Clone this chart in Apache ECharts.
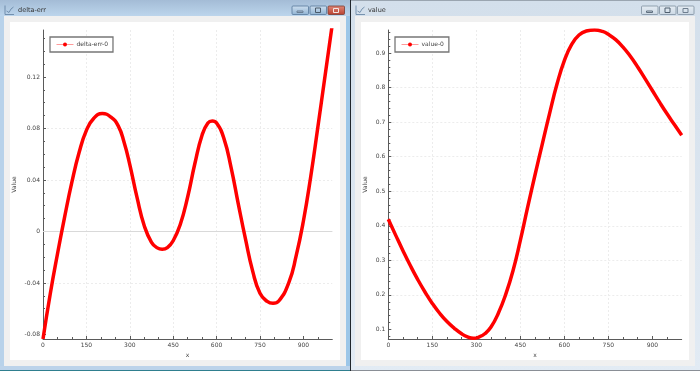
<!DOCTYPE html>
<html>
<head>
<meta charset="utf-8">
<style>html,body{margin:0;padding:0;background:#fff}#c{width:700px;height:371px}</style>
<script src="https://cdn.jsdelivr.net/npm/echarts@6/dist/echarts.min.js"></script>
</head>
<body>
<div id="c"></div>
<script>
const deltaErrX = [0,25,50,75,100,125,150,175,205,235,260,280,300,325,350,375,395,412,430,450,475,500,525,550,570,585,600,625,650,675,700,725,750,775,795,815,850,875,900,925,950,975,1000];
const deltaErrY = [-0.0835,-0.0485,-0.0175,0.0115,0.0385,0.0615,0.0785,0.0878,0.0916,0.0888,0.082,0.0695,0.052,0.0265,0.0045,-0.0084,-0.0127,-0.0138,-0.0125,-0.0072,0.0058,0.0268,0.0528,0.075,0.0842,0.0858,0.0842,0.0725,0.0498,0.0215,-0.006,-0.031,-0.048,-0.0543,-0.0558,-0.054,-0.0395,-0.019,0.008,0.042,0.081,0.121,0.161];
const valueX = [0,25,50,75,100,125,150,175,200,225,250,270,290,310,330,350,375,400,425,450,475,500,525,550,575,600,625,650,675,703,730,750,775,800,825,850,875,900,925,950,975,1000];
const valueY = [0.419,0.373,0.328,0.285,0.245,0.2085,0.1755,0.147,0.123,0.1035,0.0875,0.0785,0.0745,0.0785,0.0885,0.107,0.147,0.201,0.27,0.358,0.454,0.547,0.637,0.726,0.81,0.878,0.925,0.952,0.9635,0.9665,0.9625,0.954,0.9385,0.917,0.8905,0.8595,0.826,0.7915,0.757,0.724,0.693,0.662];
const xTicks = [0,150,300,450,600,750,900];
const xMinor = [50,100,200,250,350,400,500,550,650,700,800,850,950];
const deltaTicks = [-0.08,-0.04,0,0.04,0.08,0.12];
const deltaMinor = [-0.07,-0.06,-0.05,-0.03,-0.02,-0.01,0.01,0.02,0.03,0.05,0.06,0.07,0.09,0.1,0.11,0.13,0.14,0.15];
const valueTicks = [0.1,0.2,0.3,0.4,0.5,0.6,0.7,0.8,0.9];
const valueMinor = [0.08,0.12,0.14,0.16,0.18,0.22,0.24,0.26,0.28,0.32,0.34,0.36,0.38,0.42,0.44,0.46,0.48,0.52,0.54,0.56,0.58,0.62,0.64,0.66,0.68,0.72,0.74,0.76,0.78,0.82,0.84,0.86,0.88,0.92,0.94,0.96];
const zeroLineX = [0,1000];
const zeroLineY = [0,0];
const windowTitles = ['delta-err','value'];
const seriesNames = ['delta-err-0','value-0'];

const font = 'DejaVu Sans';
const axisColor = '#5a5a5a';
const textColor = '#444';

function zip(a,b){return a.map((v,i)=>[v,b[i]]);}
function mainX(grid,min,max){return {
  type:'value',gridIndex:grid,min:min,max:max,position:'bottom',
  name:'x',nameLocation:'middle',nameGap:13,
  nameTextStyle:{fontFamily:font,fontSize:6,color:textColor},
  axisLine:{onZero:false,lineStyle:{color:axisColor,width:1}},
  axisTick:{show:true,inside:true,length:3,customValues:xTicks,lineStyle:{color:axisColor}},
  axisLabel:{show:true,customValues:xTicks,margin:3,fontFamily:font,fontSize:6,color:textColor,hideOverlap:false,showMinLabel:true,showMaxLabel:true},
  splitLine:{show:true,lineStyle:{color:'#ececec',type:[2,2],width:1},showMinLine:false,showMaxLine:false}
};}
function minorX(grid,min,max){return {
  type:'value',gridIndex:grid,min:min,max:max,position:'bottom',
  axisLine:{show:false,onZero:false},
  axisTick:{show:true,inside:true,length:2,customValues:xMinor,lineStyle:{color:axisColor}},
  axisLabel:{show:false},splitLine:{show:false}
};}
function mainY(grid,min,max,ticks,gap){return {
  type:'value',gridIndex:grid,min:min,max:max,position:'left',
  name:'Value',nameLocation:'middle',nameGap:gap,nameRotate:90,
  nameTextStyle:{fontFamily:font,fontSize:6,color:textColor},
  axisLine:{show:true,onZero:false,lineStyle:{color:axisColor,width:1}},
  axisTick:{show:true,inside:true,length:3,customValues:ticks,lineStyle:{color:axisColor}},
  axisLabel:{show:true,customValues:ticks,margin:3,fontFamily:font,fontSize:6,color:textColor,hideOverlap:false},
  splitLine:{show:true,lineStyle:{color:'#ececec',type:[2,2],width:1},showMinLine:false,showMaxLine:false}
};}
function minorY(grid,min,max,ticks){return {
  type:'value',gridIndex:grid,min:min,max:max,position:'left',
  axisLine:{show:false,onZero:false},
  axisTick:{show:true,inside:true,length:2,customValues:ticks,lineStyle:{color:axisColor}},
  axisLabel:{show:false},splitLine:{show:false}
};}
function curve(name,x,y,xi,yi){return {
  type:'line',name:name,xAxisIndex:xi,yAxisIndex:yi,data:zip(x,y),smooth:0.5,
  symbol:'circle',showSymbol:false,symbolSize:4,clip:true,silent:true,z:5,
  lineStyle:{color:'#ff0000',width:3.5,join:'round',cap:'butt'},itemStyle:{color:'#ff0000'},emphasis:{disabled:true},animation:false
};}
function legend(name,left){return {
  data:[name],left:left,top:37,orient:'horizontal',
  padding:[4.5,5,4.5,6],itemWidth:17,itemHeight:5,itemGap:0,
  backgroundColor:'#fff',borderColor:'#777',borderWidth:1.3,borderRadius:0,
  selectedMode:false,
  textStyle:{fontFamily:font,fontSize:6,color:textColor,padding:[0,0,0,-2]},
  itemStyle:{color:'#ff0000'},lineStyle:{color:'#ff9a9a',width:1}
};}
function rect(x,y,w,h,fill,stroke){return {type:'rect',silent:true,z:-5,shape:{x:x,y:y,width:w,height:h},style:{fill:fill,stroke:stroke||null,lineWidth:stroke?0.8:0}};}
function vgrad(a,b){return new echarts.graphic.LinearGradient(0,0,0,1,[{offset:0,color:a},{offset:1,color:b}]);}
function button(x,w,fill,stroke,glyph){return [
  {type:'rect',silent:true,z:-4,shape:{x:x+0.5,y:6,width:w,height:8.5,r:1},style:{fill:fill,stroke:stroke,lineWidth:0.8}},
  glyph
];}
function glyphRect(x,y,w,h,c){return {type:'rect',silent:true,z:-3,shape:{x:x,y:y,width:w,height:h},style:{fill:'none',stroke:c,lineWidth:1}};}
function icon(x,c){return [
  {type:'polyline',silent:true,z:-3,shape:{points:[[x,5.5],[x,14.5],[x+9,14.5]]},style:{stroke:c,fill:'none',lineWidth:0.8}},
  {type:'polyline',silent:true,z:-3,shape:{points:[[x+1.5,11],[x+4,12.5],[x+6,9],[x+8.5,7]]},style:{stroke:c,fill:'none',lineWidth:0.8}}
];}
function title(text,x){return {type:'text',silent:true,z:-3,x:x,y:7,style:{text:text,fontFamily:font,fontSize:6.5,fill:'#333'}};}

const graphics = [
  rect(0,0,350,371,vgrad('#9db8d4','#b9d2ea')),
  rect(0,0,350,16,vgrad('#a4bcd6','#bcd5ec')),
  rect(346,16,4,354,'#9cc6e8'),
  rect(0,16,4,354,'#b8d2ea'),
  rect(0,366,350,5,'#bcd3ea'),
  rect(0,370,350,1,'#2f7f8f'),
  rect(4,16,342,350,'#f0f0f0'),
  rect(10,22,330,338,'#ffffff'),
  rect(351,0,349,371,vgrad('#d3dfeb','#e2ebf4')),
  rect(351,0,349,1,'#9aa5b0'),
  rect(351,370,349,1,'#8a8f96'),
  rect(355,16,340,350,'#f0f0f0'),
  rect(361,22,328,338,'#ffffff'),
  rect(350,0,1,371,'#20262c'),
  title(windowTitles[0],18),
  title(windowTitles[1],368)
].concat(
  icon(5,'#5f7f9f'),icon(356,'#5f7f9f'),
  button(291.5,16.5,vgrad('#cfe0f0','#8fb2d2'),'#56779a',glyphRect(297,11,6,1.5,'#6a7f95')),
  button(309.5,16.5,vgrad('#cfe0f0','#8fb2d2'),'#56779a',glyphRect(315.5,8,5,4.5,'#4a5a6a')),
  button(327.5,16.5,vgrad('#e0897a','#b8402f'),'#7a3a30',glyphRect(333.5,8.5,5,4,'#f4e6e2')),
  button(641,16.5,vgrad('#e6edf4','#cbd8e4'),'#7f8f9f',glyphRect(646.5,11,6,1.5,'#5f6f7f')),
  button(659,16.5,vgrad('#e6edf4','#cbd8e4'),'#7f8f9f',glyphRect(665,8,5,4.5,'#4f5f6f')),
  button(677,16.5,vgrad('#e6edf4','#cbd8e4'),'#7f8f9f',glyphRect(683,8.5,5,4,'#6f7f8f'))
);

const option = {
  animation:false,
  backgroundColor:'#fff',
  graphic:{elements:graphics},
  legend:[legend(seriesNames[0],50),legend(seriesNames[1],395)],
  grid:[
    {left:43,top:30,width:289.3,height:309,containLabel:false},
    {left:388.3,top:30,width:293.4,height:309,containLabel:false}
  ],
  xAxis:[mainX(0,0,1000),minorX(0,0,1000),mainX(1,0,1000),minorX(1,0,1000)],
  yAxis:[
    mainY(0,-0.0835,0.1565,deltaTicks,26),minorY(0,-0.0835,0.1565,deltaMinor),
    mainY(1,0.0725,0.9665,valueTicks,20),minorY(1,0.0725,0.9665,valueMinor)
  ],
  series:[
    {type:'line',name:'zero',xAxisIndex:0,yAxisIndex:0,data:zip(zeroLineX,zeroLineY),symbol:'none',silent:true,z:1,
     lineStyle:{color:'#d9d9d9',width:1},emphasis:{disabled:true}},
    curve(seriesNames[0],deltaErrX,deltaErrY,0,0),
    curve(seriesNames[1],valueX,valueY,2,2)
  ]
};
const chart = echarts.init(document.getElementById('c'),null,{renderer:'canvas'});
chart.setOption(option);
</script>
</body>
</html>
